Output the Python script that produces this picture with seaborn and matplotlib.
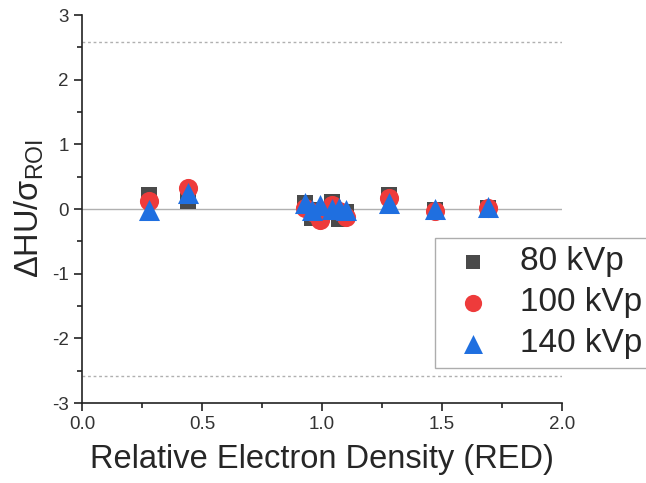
import numpy as np
import pandas as pd
import matplotlib
matplotlib.use("Agg")
import matplotlib.pyplot as plt
import seaborn as sns
from matplotlib.ticker import MultipleLocator

red = [0.28, 0.44, 0.93, 0.96, 0.99, 1.04, 1.07, 1.10, 1.28, 1.47, 1.69]
kvp80 = [0.21, 0.13, 0.10, -0.14, -0.02, 0.11, -0.15, -0.05, 0.22, -0.02, 0.02]
kvp100 = [0.13, 0.32, 0.01, -0.05, -0.17, 0.06, -0.03, -0.12, 0.17, -0.03, 0.01]
kvp140 = [-0.02, 0.25, 0.10, -0.01, 0.06, 0.0, 0.02, -0.02, 0.10, 0.0, 0.03]
series_names = ["80 kVp", "100 kVp", "140 kVp"]
limit = 2.576

df = pd.DataFrame({
    "RED": red * 3,
    "val": kvp80 + kvp100 + kvp140,
    "series": sum([[n] * len(red) for n in series_names], []),
})

sns.set_style("ticks")
plt.rcParams['font.family'] = ['Liberation Sans', 'DejaVu Sans']
plt.rcParams['mathtext.fontset'] = 'custom'
plt.rcParams['mathtext.rm'] = 'Liberation Sans'
plt.rcParams['mathtext.it'] = 'Liberation Sans'
plt.rcParams['axes.unicode_minus'] = False

fig = plt.figure(figsize=(6.46, 4.83), dpi=100)
ax = fig.add_axes([82/646, 1 - 403/483, 480/646, 388/483])

ax.axhline(0, color="#b0b0b0", lw=1, zorder=0)
ax.axhline(limit, color="#b0b0b0", lw=1, ls=(0, (2, 2)), zorder=0)
ax.axhline(-limit, color="#b0b0b0", lw=1, ls=(0, (2, 2)), zorder=0)

palette = {"80 kVp": "#4a4a4a", "100 kVp": "#ee3b3b", "140 kVp": "#1f6fe0"}
markers = {"80 kVp": "s", "100 kVp": "o", "140 kVp": "^"}
sizes = {"80 kVp": 130, "100 kVp": 190, "140 kVp": 230}
for name in series_names:
    sub = df[df["series"] == name]
    sns.scatterplot(data=sub, x="RED", y="val", color=palette[name], marker=markers[name],
                    s=sizes[name], linewidth=0, ax=ax, label=name, zorder=3)

ax.set_xlim(0, 2.0)
ax.set_ylim(-3, 3)
ax.xaxis.set_major_locator(MultipleLocator(0.5))
ax.xaxis.set_minor_locator(MultipleLocator(0.25))
ax.yaxis.set_major_locator(MultipleLocator(1))
ax.yaxis.set_minor_locator(MultipleLocator(0.5))
ax.xaxis.set_major_formatter(matplotlib.ticker.FormatStrFormatter("%.1f"))
ax.tick_params(which="major", direction="out", length=6, width=1.2, labelsize=13.5, colors="#222222", labelcolor="#333333")
ax.tick_params(which="minor", direction="out", length=3.5, width=1.2, colors="#222222")
for s in ["top", "right"]:
    ax.spines[s].set_visible(False)
for s in ["left", "bottom"]:
    ax.spines[s].set_linewidth(1.2)
    ax.spines[s].set_color("#222222")

ax.set_xlabel("Relative Electron Density (RED)", fontsize=23.5, labelpad=8)
ax.set_ylabel(r"$\Delta$HU/$\sigma_{\mathrm{ROI}}$", fontsize=23.5, labelpad=4)

leg = ax.legend(loc="upper left", bbox_to_anchor=(435/646, 1 - 238/483), bbox_transform=fig.transFigure,
                fontsize=24, frameon=True, fancybox=False, edgecolor="#999999",
                handletextpad=0.5, borderpad=0.25, borderaxespad=0, labelspacing=0.3,
                markerscale=0.9, handlelength=1.8)
leg.get_frame().set_linewidth(1.0)

fig.savefig("out.png", dpi=100)
